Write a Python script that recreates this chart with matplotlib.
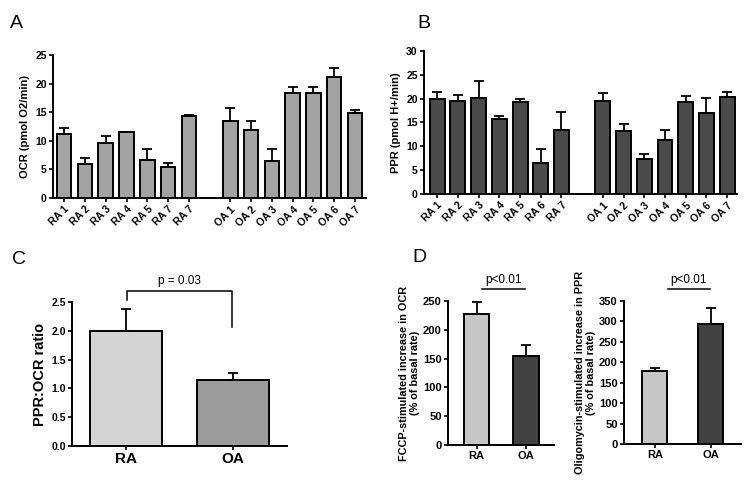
import numpy as np
import matplotlib
matplotlib.use("Agg")
import matplotlib.pyplot as plt

plt.rcParams["font.family"] = ["Liberation Sans", "DejaVu Sans"]

# -----------------------------
# Data
# -----------------------------
a_labels = ["RA 1", "RA 2", "RA 3", "RA 4", "RA 5", "RA 7", "RA 7",
            "OA 1", "OA 2", "OA 3", "OA 4", "OA 5", "OA 6", "OA 7"]
a_ocr = [11.2, 6.0, 9.65, 11.5, 6.6, 5.4, 14.3, 13.4, 11.9, 6.5, 18.3, 18.3, 21.2, 14.8]
a_ocr_sem = [1.0, 1.0, 1.25, 0.0, 1.9, 0.8, 0.2, 2.4, 1.5, 2.1, 1.1, 1.1, 1.6, 0.55]

b_labels = ["RA 1", "RA 2", "RA 3", "RA 4", "RA 5", "RA 6", "RA 7",
            "OA 1", "OA 2", "OA 3", "OA 4", "OA 5", "OA 6", "OA 7"]
b_ppr = [20.0, 19.6, 20.2, 15.8, 19.3, 6.6, 13.5, 19.5, 13.2, 7.3, 11.4, 19.3, 16.9, 20.3]
b_ppr_sem = [1.4, 1.2, 3.5, 0.5, 0.6, 2.8, 3.7, 1.6, 1.4, 1.1, 2.0, 1.2, 3.2, 1.2]

groups = ["RA", "OA"]
c_ratio = [2.0, 1.14]
c_ratio_sem = [0.37, 0.13]

d_fccp = [227, 155]
d_fccp_sem = [21, 19]
d_oligo = [178, 294]
d_oligo_sem = [9, 40]

W, H = 748, 488


def rect(left, top, right, bottom):
    return [left / W, 1 - bottom / H, (right - left) / W, (bottom - top) / H]


def style_axes(ax, tick_size):
    for s in ["top", "right"]:
        ax.spines[s].set_visible(False)
    for s in ["left", "bottom"]:
        ax.spines[s].set_linewidth(1.4)
    ax.tick_params(direction="out", length=3, width=1.2, labelsize=tick_size, pad=1.5)
    for lab in ax.get_yticklabels() + ax.get_xticklabels():
        lab.set_fontweight("bold")


def bars(ax, pos, vals, sem, color, width):
    ax.bar(pos, vals, width=width, color=color, edgecolor="black", linewidth=1.4, zorder=2)
    ax.errorbar(pos, vals, yerr=[np.zeros(len(vals)), sem], fmt="none",
                ecolor="black", elinewidth=1.3, capsize=3.5, capthick=1.3, zorder=1)


fig = plt.figure(figsize=(W / 100, H / 100), dpi=100)

# -----------------------------
# Panel A
# -----------------------------
pos14 = np.r_[np.arange(7), np.arange(8, 15)]
axA = fig.add_axes(rect(53, 55, 366, 198))
bars(axA, pos14, a_ocr, a_ocr_sem, "#a3a3a3", 0.7)
axA.set_xlim(-0.54, 14.53)
axA.set_ylim(0, 25)
axA.set_yticks([0, 5, 10, 15, 20, 25])
axA.set_xticks(pos14)
axA.set_xticklabels(a_labels, rotation=45, ha="right", rotation_mode="anchor")
axA.set_ylabel("OCR (pmol O2/min)", fontsize=8, fontweight="bold", labelpad=4)
style_axes(axA, 7.5)
fig.text(10 / W, 1 - 28 / H, "A", fontsize=14)

# -----------------------------
# Panel B
# -----------------------------
axB = fig.add_axes(rect(424, 51, 737, 194))
bars(axB, pos14, b_ppr, b_ppr_sem, "#4a4a4a", 0.72)
axB.set_xlim(-0.64, 14.48)
axB.set_ylim(0, 30)
axB.set_yticks([0, 5, 10, 15, 20, 25, 30])
axB.set_xticks(pos14)
axB.set_xticklabels(b_labels, rotation=45, ha="right", rotation_mode="anchor")
axB.set_ylabel("PPR (pmol H+/min)", fontsize=8, fontweight="bold", labelpad=4)
style_axes(axB, 7.5)
fig.text(417 / W, 1 - 28 / H, "B", fontsize=14)

# -----------------------------
# Panel C
# -----------------------------
axC = fig.add_axes(rect(72, 302, 287, 446))
bars(axC, [0, 1], c_ratio, c_ratio_sem, ["#d4d4d4", "#9c9c9c"], 0.67)
axC.set_xlim(-0.5, 1.5)
axC.set_ylim(0, 2.5)
axC.set_yticks([0, 0.5, 1.0, 1.5, 2.0, 2.5])
axC.set_yticklabels(["0.0", "0.5", "1.0", "1.5", "2.0", "2.5"])
axC.set_xticks([0, 1])
axC.set_xticklabels(groups)
axC.set_ylabel("PPR:OCR ratio", fontsize=10.5, fontweight="bold", labelpad=3)
style_axes(axC, 7.5)
for lab in axC.get_xticklabels():
    lab.set_fontsize(11)
axC.plot([0.01, 0.01, 0.99, 0.99], [2.53, 2.685, 2.685, 2.07], color="black",
         lw=1.1, clip_on=False)
axC.text(0.5, 2.76, "p = 0.03", ha="center", va="bottom", fontsize=8.5)
fig.text(12 / W, 1 - 264 / H, "C", fontsize=14)

# -----------------------------
# Panel D (left)
# -----------------------------
axD1 = fig.add_axes(rect(448, 301, 554, 445))
bars(axD1, [0, 1], d_fccp, d_fccp_sem, ["#c6c6c6", "#414141"], 0.52)
axD1.set_xlim(-0.58, 1.57)
axD1.set_ylim(0, 250)
axD1.set_yticks([0, 50, 100, 150, 200, 250])
axD1.set_xticks([0, 1])
axD1.set_xticklabels(groups)
axD1.set_ylabel("FCCP-stimulated increase in OCR\n(% of basal rate)", fontsize=7.8,
                fontweight="bold", labelpad=2)
style_axes(axD1, 8)
axD1.plot([0.1, 0.99], [271, 271], color="black", lw=1.1, clip_on=False)
axD1.text(0.55, 276, "p<0.01", ha="center", va="bottom", fontsize=8.5)
fig.text(412 / W, 1 - 262 / H, "D", fontsize=14)

# -----------------------------
# Panel D (right)
# -----------------------------
axD2 = fig.add_axes(rect(624, 301, 741, 444))
bars(axD2, [0, 1], d_oligo, d_oligo_sem, ["#c6c6c6", "#414141"], 0.45)
axD2.set_xlim(-0.55, 1.54)
axD2.set_ylim(0, 350)
axD2.set_yticks([0, 50, 100, 150, 200, 250, 300, 350])
axD2.set_xticks([0, 1])
axD2.set_xticklabels(groups)
axD2.set_ylabel("Oligomycin-stimulated increase in PPR\n(% of basal rate)", fontsize=7.8,
                fontweight="bold", labelpad=2)
style_axes(axD2, 8)
axD2.plot([0.23, 0.99], [380, 380], color="black", lw=1.1, clip_on=False)
axD2.text(0.61, 387, "p<0.01", ha="center", va="bottom", fontsize=8.5)

fig.savefig("out.png", dpi=100)
